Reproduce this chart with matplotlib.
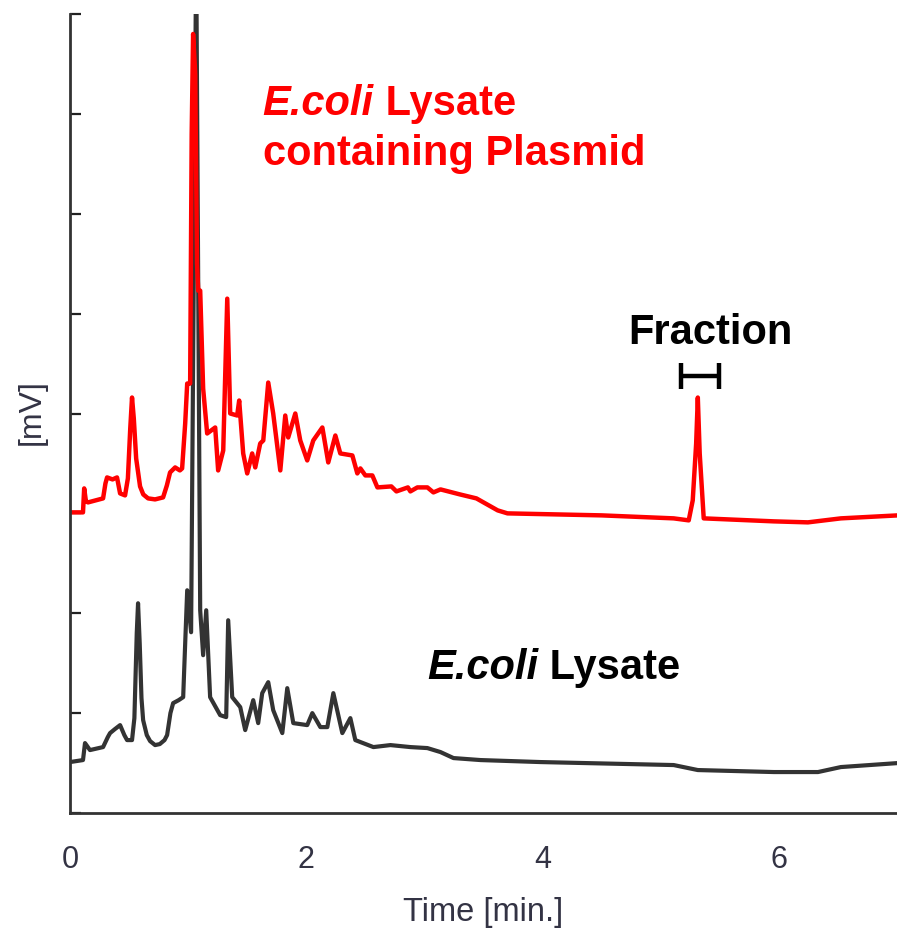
import numpy as np
import matplotlib
matplotlib.use("Agg")
import matplotlib.pyplot as plt

plt.rcParams['font.family'] = ['Liberation Sans', 'DejaVu Sans']

# Chromatogram of E. coli lysate containing plasmid (retention time [min], signal [mV])
plasmid_time = [0.000, 0.110, 0.120, 0.135, 0.153, 0.280, 0.300, 0.314, 0.360, 0.398,
                0.424, 0.466, 0.490, 0.510, 0.525, 0.540, 0.560, 0.593, 0.620, 0.661,
                0.720, 0.788, 0.820, 0.847, 0.890, 0.930, 0.949, 0.975, 0.992, 1.017,
                1.030, 1.042, 1.060, 1.075, 1.085, 1.102, 1.127, 1.161, 1.229, 1.254,
                1.297, 1.331, 1.356, 1.415, 1.432, 1.466, 1.500, 1.542, 1.568, 1.610,
                1.636, 1.678, 1.720, 1.780, 1.822, 1.847, 1.907, 1.949, 2.008, 2.059,
                2.136, 2.186, 2.246, 2.288, 2.390, 2.432, 2.458, 2.500, 2.559, 2.602,
                2.720, 2.763, 2.860, 2.881, 2.940, 3.025, 3.076, 3.136, 3.300, 3.440,
                3.500, 3.620, 3.703, 4.500, 5.110, 5.237, 5.271, 5.300, 5.314, 5.330,
                5.364, 5.958, 6.246, 6.525, 7.008]
plasmid_mv = [3.01, 3.01, 3.25, 3.12, 3.11, 3.15, 3.30, 3.36, 3.34, 3.36,
              3.20, 3.18, 3.35, 3.85, 4.16, 3.95, 3.55, 3.27, 3.19, 3.15,
              3.14, 3.16, 3.28, 3.41, 3.46, 3.43, 3.45, 3.90, 4.30, 4.30,
              6.80, 7.80, 7.40, 5.50, 5.23, 5.23, 4.25, 3.80, 3.86, 3.43,
              3.63, 5.15, 4.00, 3.98, 4.13, 3.60, 3.40, 3.60, 3.46, 3.70,
              3.73, 4.31, 4.00, 3.43, 3.98, 3.76, 4.00, 3.73, 3.53, 3.73,
              3.86, 3.51, 3.78, 3.60, 3.58, 3.40, 3.45, 3.38, 3.38, 3.26,
              3.27, 3.22, 3.26, 3.22, 3.26, 3.26, 3.21, 3.24, 3.19, 3.15,
              3.11, 3.03, 3.00, 2.98, 2.95, 2.93, 3.13, 3.70, 4.16, 3.60,
              2.95, 2.92, 2.91, 2.95, 2.98]

# Chromatogram of E. coli lysate alone
lysate_time = [0.000, 0.110, 0.127, 0.169, 0.280, 0.320, 0.339, 0.380, 0.424, 0.460,
               0.483, 0.525, 0.545, 0.565, 0.576, 0.590, 0.605, 0.619, 0.650, 0.678,
               0.720, 0.760, 0.800, 0.822, 0.850, 0.873, 0.920, 0.958, 0.975, 0.992,
               1.025, 1.068, 1.102, 1.127, 1.153, 1.186, 1.271, 1.322, 1.339, 1.373,
               1.441, 1.483, 1.551, 1.593, 1.627, 1.678, 1.720, 1.797, 1.839, 1.890,
               2.008, 2.051, 2.119, 2.178, 2.229, 2.305, 2.373, 2.415, 2.568, 2.712,
               2.881, 3.025, 3.136, 3.246, 3.475, 3.983, 5.110, 5.314, 5.958, 6.331,
               6.525, 7.008]
lysate_mv = [0.51, 0.53, 0.70, 0.63, 0.66, 0.76, 0.80, 0.84, 0.88, 0.78,
             0.73, 0.73, 0.95, 1.80, 2.10, 1.70, 1.15, 0.93, 0.78, 0.72,
             0.68, 0.69, 0.73, 0.78, 1.00, 1.10, 1.13, 1.16, 1.70, 2.23,
             1.81, 8.63, 2.03, 1.58, 2.03, 1.16, 0.98, 0.96, 1.93, 1.16,
             1.06, 0.83, 1.13, 0.90, 1.20, 1.31, 1.03, 0.80, 1.25, 0.90,
             0.88, 1.00, 0.86, 0.86, 1.20, 0.80, 0.95, 0.73, 0.66, 0.68,
             0.66, 0.65, 0.61, 0.55, 0.53, 0.51, 0.48, 0.43, 0.41, 0.41,
             0.46, 0.50]

# collected fraction window [min]
fraction_start, fraction_end = 5.17, 5.49

x_ticks = [0, 2, 4, 6]

fig = plt.figure(figsize=(8.97, 9.30), dpi=100)
ax = fig.add_axes([70 / 897, 1 - 813 / 930, 827 / 897, 799 / 930])

ax.plot(lysate_time, lysate_mv, color='#333333', lw=3.0, solid_joinstyle='round')
ax.plot(plasmid_time, plasmid_mv, color='#ff0000', lw=3.2, solid_joinstyle='round')

ax.set_xlim(0, 7)
ax.set_ylim(0, 8)
ax.set_xticks(x_ticks)
ax.set_xticklabels([str(t) for t in x_ticks])
ax.set_yticks(range(0, 9))
ax.set_yticklabels([])
ax.tick_params(axis='y', direction='in', length=8, width=1.6, color='#222222')
ax.tick_params(axis='x', length=0, pad=23, labelsize=22, labelcolor='#333344')

for side in ['top', 'right']:
    ax.spines[side].set_visible(False)
for side in ['left', 'bottom']:
    ax.spines[side].set_color('#333333')
    ax.spines[side].set_linewidth(2.0)

fig.text(483 / 897, 1 - 912 / 930, 'Time [min.]', ha='center', va='center',
         fontsize=23.5, color='#333344')
fig.text(32 / 897, 1 - 412 / 930, '[mV]', ha='center', va='center',
         rotation=90, fontsize=23, color='#333344')

# labels with italic species name
def species_label(x, y, rest, color):
    t1 = ax.text(x, y, 'E.coli', fontsize=30, weight='bold', style='italic',
                 color=color, ha='left', va='bottom')
    ax.annotate(rest, xy=(1, 0), xycoords=t1, fontsize=30, weight='bold',
                color=color, ha='left', va='bottom')
    return t1

species_label(1.63, 6.9, ' Lysate', '#ff0000')
ax.text(1.63, 6.4, 'containing Plasmid', fontsize=30, weight='bold',
        color='#ff0000', ha='left', va='bottom')
species_label(3.02, 1.25, ' Lysate', '#000000')

# fraction bracket
bracket_y = 4.38
ax.plot([fraction_start, fraction_end], [bracket_y, bracket_y], color='black',
        lw=3.2, solid_capstyle='butt')
for xe in (fraction_start, fraction_end):
    ax.plot([xe, xe], [bracket_y - 0.13, bracket_y + 0.13], color='black',
            lw=3.2, solid_capstyle='butt')
ax.text(5.42, 4.81, 'Fraction', fontsize=30, weight='bold', color='black',
        ha='center', va='center')

fig.savefig('out.png', dpi=100)
